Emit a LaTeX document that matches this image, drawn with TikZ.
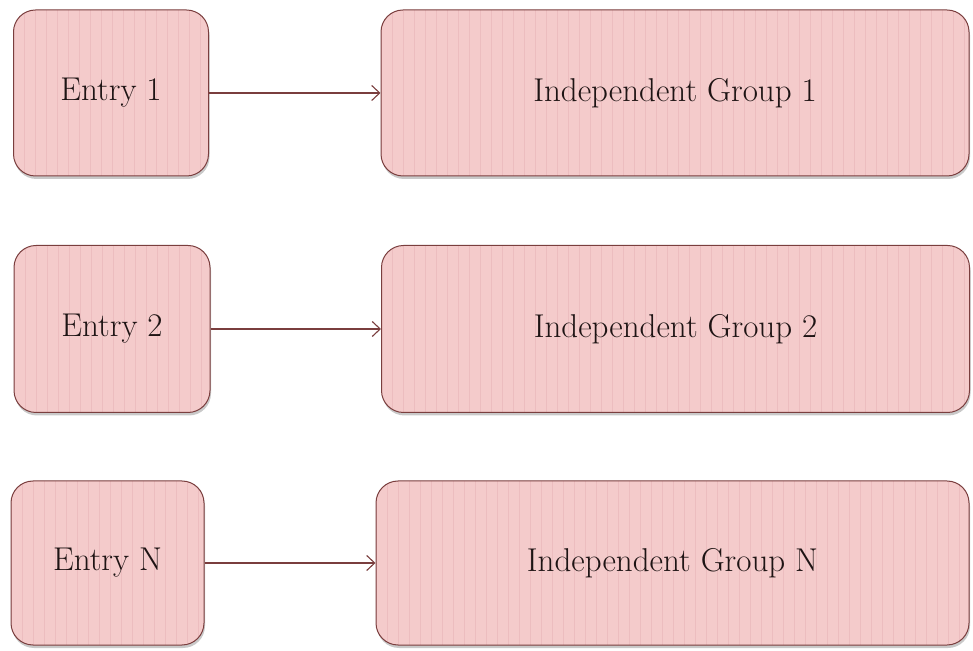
\documentclass[tikz,border=0pt]{standalone}
\usepackage{fontspec}
\usepackage{tikz}
\usetikzlibrary{shadows,arrows.meta}
\definecolor{cajarosa}{HTML}{F4CBCB}
\definecolor{rayarosa}{HTML}{ECBDBF}
\definecolor{borde}{HTML}{7A3E3E}
\definecolor{texto}{HTML}{1E1414}

\tikzset{
  caja/.style={draw=borde, line width=1pt, fill=cajarosa, rounded corners=22pt,
    text=texto, font=\fontsize{33}{40}\selectfont,
    drop shadow={shadow xshift=1pt, shadow yshift=-3pt, opacity=0.3, fill=black!70},
    path picture={
      \foreach \k in {0,11,...,600}
        \draw[rayarosa, line width=0.7pt]
          ([xshift=\k pt]path picture bounding box.south west) --
          ([xshift=\k pt]path picture bounding box.north west);
    }},
  flecha/.style={-{Straight Barb[length=8pt, width=15pt]}, draw=borde, line width=1.1pt}
}

\begin{document}
\begin{tikzpicture}[x=1pt, y=1pt]
  \useasboundingbox (0,0) rectangle (973,650);

  % Entradas
  \node[caja, minimum width=195pt, minimum height=166pt] (e1) at (111,557) {Entry 1};
  \node[caja, minimum width=196pt, minimum height=167pt] (e2) at (112,321) {Entry 2};
  \node[caja, minimum width=193pt, minimum height=164pt] (en) at (107.5,87) {Entry N};

  % Grupos independientes
  \node[caja, minimum width=588pt, minimum height=166pt] (g1) at (675,557) {Independent Group 1};
  \node[caja, minimum width=588pt, minimum height=167pt] (g2) at (675.5,321) {Independent Group 2};
  \node[caja, minimum width=593pt, minimum height=164pt] (gn) at (672.5,87) {Independent Group N};

  % Flechas
  \draw[flecha] (e1) -- (g1);
  \draw[flecha] (e2) -- (g2);
  \draw[flecha] (en) -- (gn);
\end{tikzpicture}
\end{document}
